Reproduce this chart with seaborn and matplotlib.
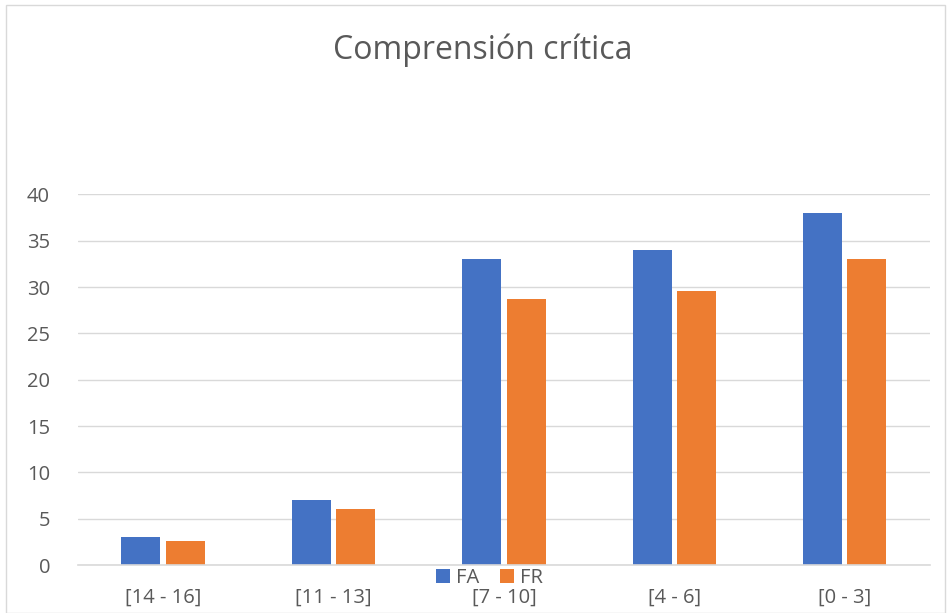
import pandas as pd
import seaborn as sns
import matplotlib.pyplot as plt
from matplotlib.patches import Rectangle

categories = ['[14 - 16]', '[11 - 13]', '[7 - 10]', '[4 - 6]', '[0 - 3]']
fa = [3, 7, 33, 34, 38]
fr = [2.61, 6.09, 28.71, 29.58, 33.06]

df = pd.DataFrame({
    'rango': categories * 2,
    'valor': fa + fr,
    'serie': ['FA'] * len(fa) + ['FR'] * len(fr),
})

sns.set_style('white')
plt.rcParams['font.family'] = ['Open Sans', 'DejaVu Sans']

fig = plt.figure(figsize=(9.49, 6.13), dpi=100)
ax = fig.add_axes([0.082, 0.078, 0.898, 0.605])

sns.barplot(data=df, x='rango', y='valor', hue='serie', order=categories,
            palette={'FA': '#4472c4', 'FR': '#ed7d31'}, width=0.52, gap=0.12,
            saturation=1, linewidth=0, ax=ax, legend=True)

ax.set_ylim(0, 40)
ax.set_yticks(range(0, 41, 5))
ax.yaxis.grid(True, color='#d9d9d9', linewidth=1)
ax.set_axisbelow(True)
for s in ['top', 'right', 'left']:
    ax.spines[s].set_visible(False)
ax.spines['bottom'].set_color('#d9d9d9')
ax.spines['bottom'].set_linewidth(1.2)
ax.tick_params(axis='both', length=0, labelsize=14.5, colors='#595959')
ax.tick_params(axis='x', pad=16)
ax.tick_params(axis='y', pad=20)
ax.set_xlabel('')
ax.set_ylabel('')

leg = ax.legend(loc='center', bbox_to_anchor=(0.483, -0.035), ncol=2, frameon=False,
                fontsize=14.5, handlelength=0.7, handleheight=0.7,
                handletextpad=0.3, columnspacing=1.0, labelcolor='#595959')

fig.text(0.509, 0.918, 'Comprensión crítica', ha='center', va='center',
         fontsize=23, color='#595959')

fig.patches.append(Rectangle((0.006, 0.0), 0.99, 0.992, transform=fig.transFigure,
                             fill=False, edgecolor='#d9d9d9', linewidth=1))

fig.savefig('out.png', dpi=100, facecolor='white')
